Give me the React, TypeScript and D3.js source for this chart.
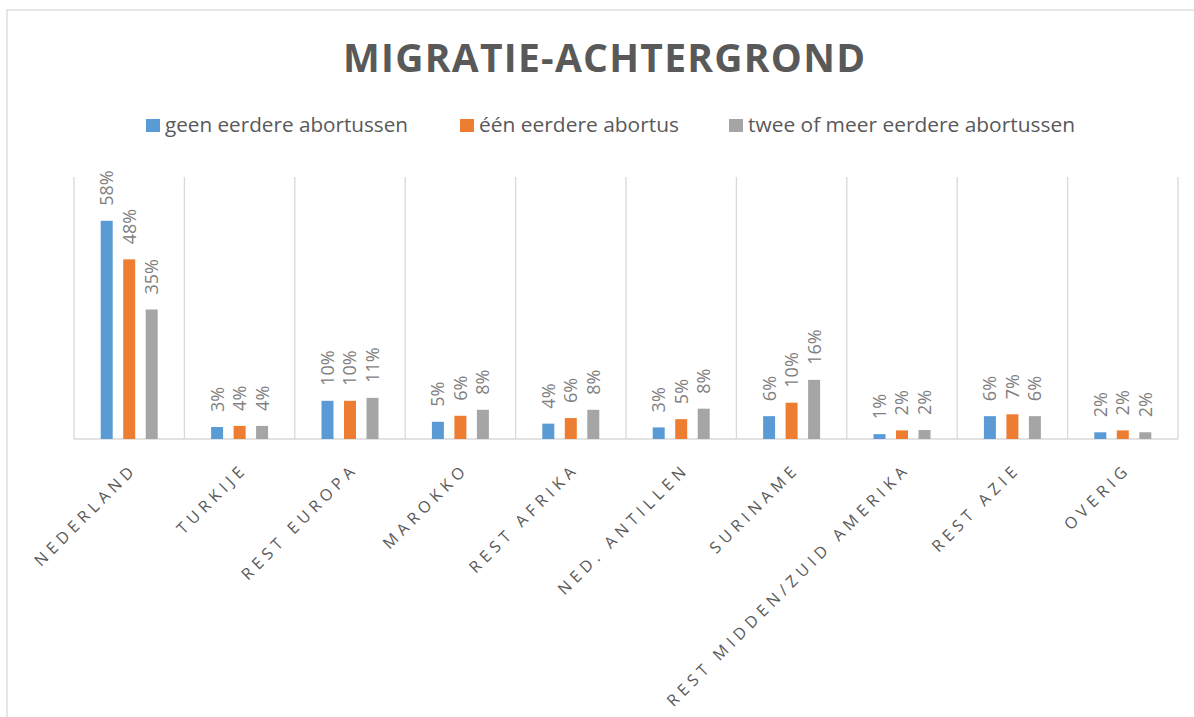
import React from 'react';
import * as d3 from 'd3';

const categories = [
  'NEDERLAND', 'TURKIJE', 'REST EUROPA', 'MAROKKO', 'REST AFRIKA',
  'NED. ANTILLEN', 'SURINAME', 'REST MIDDEN/ZUID AMERIKA', 'REST AZIE', 'OVERIG',
];
const seriesNames = ['geen eerdere abortussen', 'één eerdere abortus', 'twee of meer eerdere abortussen'];
const seriesColors = ['#5b9bd5', '#ed7d31', '#a5a5a5'];
const geenValues = [58.3, 3.2, 10.2, 4.6, 4.1, 3.1, 6.1, 1.3, 6.1, 1.8];
const eenValues = [48.0, 3.5, 10.2, 6.2, 5.6, 5.3, 9.7, 2.3, 6.6, 2.3];
const tweeValues = [34.6, 3.5, 11.0, 7.8, 7.8, 8.1, 15.8, 2.4, 6.1, 1.8];
const seriesValues = [geenValues, eenValues, tweeValues];

const W = 1194;
const H = 717;
const font = "'Open Sans', 'Noto Sans', sans-serif";

export default function App() {
  const x = d3.scaleBand<string>().domain(categories).range([74, 1178]).padding(0);
  const inner = d3.scaleBand<number>()
    .domain([0, 1, 2])
    .range([0, x.bandwidth()])
    .paddingInner(0.467)
    .paddingOuter(1.187);
  const y = d3.scaleLinear().domain([0, 70]).range([439, 177]);
  const bounds = categories.map(c => x(c) || 0).concat([x.range()[1]]);

  // legend layout
  const legend = [
    { sx: 146, tx: 165, len: 243 },
    { sx: 460, tx: 479, len: 200 },
    { sx: 729, tx: 748, len: 327 },
  ];

  return (
    <svg width={W} height={H} style={{ position: 'absolute', left: 0, top: 0, background: '#fff' }}>
      <rect x={7} y={10} width={W + 20} height={H + 20} fill="#fff" stroke="#d9d9d9" strokeWidth={1.3} />

      <text x={604} y={72} textAnchor="middle" fontFamily={font} fontWeight={700} fontSize={39}
        fill="#595959" textLength={522} lengthAdjust="spacing">MIGRATIE-ACHTERGROND</text>

      {seriesNames.map((name, i) => (
        <g key={name}>
          <rect x={legend[i].sx} y={119} width={14} height={13} fill={seriesColors[i]} />
          <text x={legend[i].tx} y={132} fontFamily={font} fontSize={19.5} fill="#595959"
            textLength={legend[i].len} lengthAdjust="spacingAndGlyphs">{name}</text>
        </g>
      ))}

      {bounds.map((bx, i) => (
        <line key={i} x1={bx} x2={bx} y1={y(70)} y2={y(0)} stroke="#d9d9d9" strokeWidth={1.3} />
      ))}
      <line x1={x.range()[0]} x2={x.range()[1]} y1={y(0)} y2={y(0)} stroke="#d9d9d9" strokeWidth={1.5} />

      {categories.map((c, ci) => (
        <g key={c}>
          {seriesValues.map((vals, si) => {
            const bx = (x(c) || 0) + (inner(si) || 0);
            const cx = bx + inner.bandwidth() / 2;
            const top = y(vals[ci]);
            return (
              <g key={si}>
                <rect x={bx} y={top} width={inner.bandwidth()} height={y(0) - top} fill={seriesColors[si]} />
                <text transform={`translate(${cx},${top - 15}) rotate(-90)`} dy="0.36em"
                  fontFamily={font} fontSize={18} fill="#808080">
                  {Math.round(vals[ci])}%
                </text>
              </g>
            );
          })}
          <text transform={`translate(${(x(c) || 0) + x.bandwidth() / 2 + 9},${y(0) + 31}) rotate(-45)`}
            textAnchor="end" fontFamily={font} fontSize={16} letterSpacing={4.9} fill="#595959">{c}</text>
        </g>
      ))}
    </svg>
  );
}
